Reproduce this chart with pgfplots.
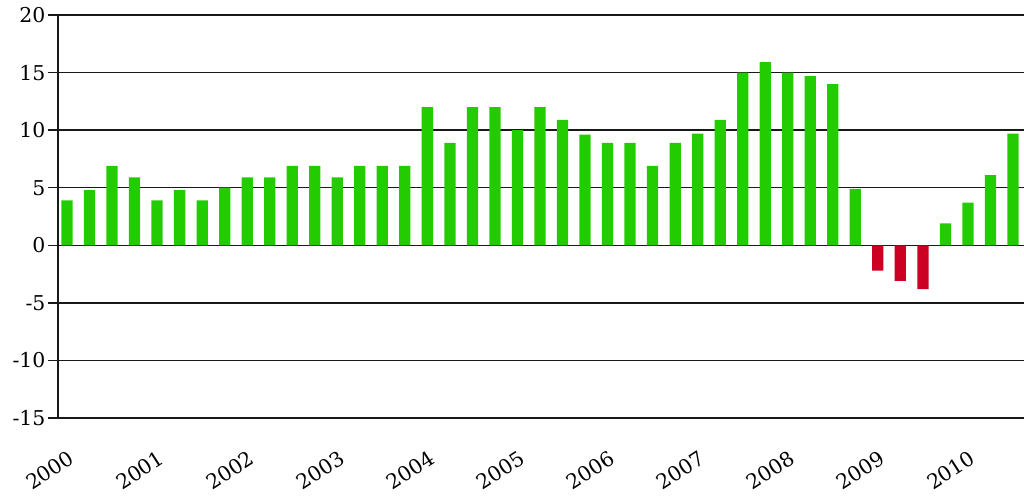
\documentclass[border=0pt]{standalone}
\usepackage{fontspec}
\setmainfont{DejaVu Serif}
\usepackage{pgfplots}
\pgfplotsset{compat=1.18}
\usepackage{pgfplotstable}
\definecolor{barup}{RGB}{34,204,0}
\definecolor{bardown}{RGB}{204,0,34}
\definecolor{gridc}{RGB}{25,25,25}

% quarterly growth, index 0 = 2000 Q1
\pgfplotstableread{
q val
0 3.9
1 4.8
2 6.9
3 5.9
4 3.9
5 4.8
6 3.9
7 5.0
8 5.9
9 5.9
10 6.9
11 6.9
12 5.9
13 6.9
14 6.9
15 6.9
16 12.0
17 8.9
18 12.0
19 12.0
20 10.0
21 12.0
22 10.9
23 9.6
24 8.9
25 8.9
26 6.9
27 8.9
28 9.7
29 10.9
30 15.0
31 15.9
32 15.0
33 14.7
34 14.0
35 4.9
39 1.9
40 3.7
41 6.1
42 9.7
}\uptable
\pgfplotstableread{
q val
36 -2.2
37 -3.1
38 -3.8
}\downtable

\begin{document}
\begin{tikzpicture}
\path[use as bounding box] (-58bp,-79bp) rectangle (966bp,418bp);
\begin{axis}[
  scale only axis,
  width=966bp, height=403bp,
  xmin=-0.4, xmax=42.49,
  ymin=-15, ymax=20,
  ytick={-15,-10,...,20},
  xtick={0,4,...,40},
  xticklabels={2000,2001,2002,2003,2004,2005,2006,2007,2008,2009,2010},
  axis lines*=left,
  axis line style={gridc, line width=1.4bp},
  ymajorgrids,
  grid style={gridc, line width=1.4bp},
  tick align=outside,
  ytick style={gridc, line width=1.4bp},
  xtick style={draw=none},
  major tick length=10bp,
  /pgf/number format/assume math mode=true,
  tick label style={font=\fontsize{20.5}{24}\selectfont},
  yticklabel style={xshift=1bp},
  xticklabel style={rotate=33, anchor=north east, yshift=-15bp, xshift=-8bp},
  ybar, bar width=0.5, bar shift=0pt,
  clip=false,
]
\addplot[fill=barup, draw=none] table[x=q, y=val] {\uptable};
\addplot[fill=bardown, draw=none] table[x=q, y=val] {\downtable};
\end{axis}
\end{tikzpicture}
\end{document}
